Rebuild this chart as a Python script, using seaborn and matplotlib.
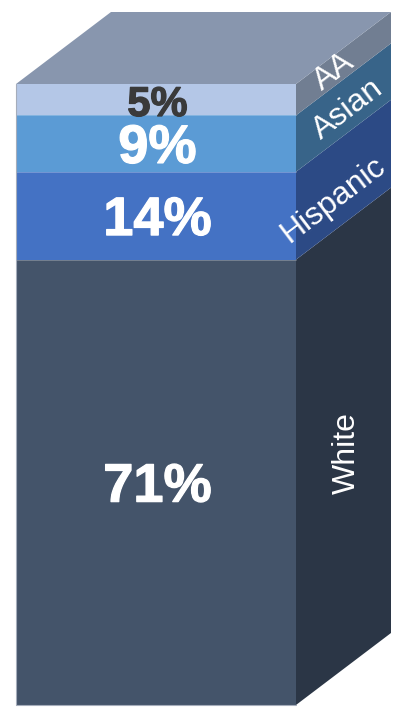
import matplotlib
matplotlib.use("Agg")
import matplotlib.pyplot as plt
from matplotlib.patches import Polygon
import matplotlib.patheffects as pe
import seaborn as sns
import pandas as pd
import numpy as np

sns.set_theme(style="white")
plt.rcParams['font.family'] = ['Liberation Sans', 'DejaVu Sans']

# data (bottom to top)
groups = ["White", "Hispanic", "Asian", "AA"]
shares = [71, 14, 9, 5]
pct_labels = ["71%", "14%", "9%", "5%"]
front_colors = ["#44546A", "#4472C4", "#5B9BD5", "#B4C7E7"]
side_colors = ["#2B3646", "#2C4A85", "#386489", "#717E92"]
pct_text_colors = ["white", "white", "white", "#3A3A3A"]
pct_sizes = [39, 39, 39, 30]
top_color = "#8896AE"

W_PX, H_PX, DPI = 407, 710, 100
fig = plt.figure(figsize=(W_PX / DPI, H_PX / DPI), dpi=DPI)
ax = fig.add_axes([0, 0, 1, 1])

cum = np.cumsum(shares)
total = cum[-1]

# draw cumulative bars, tallest first, so each segment shows
for i in range(len(groups) - 1, -1, -1):
    df = pd.DataFrame({"col": [""], "val": [cum[i]]})
    sns.barplot(data=df, x="col", y="val", color=front_colors[i], saturation=1,
                width=1.0, ax=ax, edgecolor="none", linewidth=0)

# layout in pixels -> data mapping
left_px, right_px = 16, 296
bottom_px_from_top, top_px_from_top = 705, 84
px_per_x = right_px - left_px
px_per_y = (bottom_px_from_top - top_px_from_top) / total
depth_dx = 95 / px_per_x
depth_dy = 72 / px_per_y

ax.set_xlim(-0.5 - left_px / px_per_x, -0.5 + (W_PX - left_px) / px_per_x)
y0 = -(H_PX - bottom_px_from_top) / px_per_y
ax.set_ylim(y0, y0 + H_PX / px_per_y)
ax.axis("off")

# segment separator lines (faint)
for c in cum[:-1]:
    ax.plot([-0.5, 0.5], [c, c], color="white", lw=0.6, alpha=0.3, zorder=3)
# light outline on front face bottom/left
ax.plot([-0.5, -0.5, 0.5], [total, 0, 0], color="#A5ADBB", lw=0.8, zorder=3)

# side faces
bottoms = np.concatenate([[0], cum[:-1]])
for i in range(len(groups)):
    b, t = bottoms[i], cum[i]
    poly = Polygon([(0.5, b), (0.5 + depth_dx, b + depth_dy),
                    (0.5 + depth_dx, t + depth_dy), (0.5, t)],
                   closed=True, facecolor=side_colors[i], edgecolor="none", zorder=2)
    ax.add_patch(poly)

# top face
ax.add_patch(Polygon([(-0.5, total), (0.5, total), (0.5 + depth_dx, total + depth_dy),
                      (-0.5 + depth_dx, total + depth_dy)], closed=True,
                     facecolor=top_color, edgecolor="none", zorder=2))

# percentage labels
for i in range(len(groups)):
    mid = (bottoms[i] + cum[i]) / 2
    t = ax.text(0.005, mid - 0.85, pct_labels[i], ha="center", va="center",
                fontsize=pct_sizes[i], fontweight="bold", color=pct_text_colors[i], zorder=4)
    t.set_path_effects([pe.withStroke(linewidth=0.9, foreground=pct_text_colors[i])])

# side labels
angle = np.degrees(np.arctan2(72, 95))
side_label_offsets = {"White": (0.54, -1.6), "Hispanic": (0.39, -1.9),
                      "Asian": (0.55, -0.8), "AA": (0.4, -0.2)}
for i, g in enumerate(groups):
    frac, dy = side_label_offsets[g]
    mid = (bottoms[i] + cum[i]) / 2
    x = 0.5 + depth_dx * frac
    y = mid + depth_dy * frac + dy
    rot = 90 if g == "White" else angle
    ax.text(x, y, g, ha="center", va="center", rotation=rot, rotation_mode="anchor",
            fontsize=23, color="white", zorder=4)

fig.savefig("out.png", dpi=DPI)
